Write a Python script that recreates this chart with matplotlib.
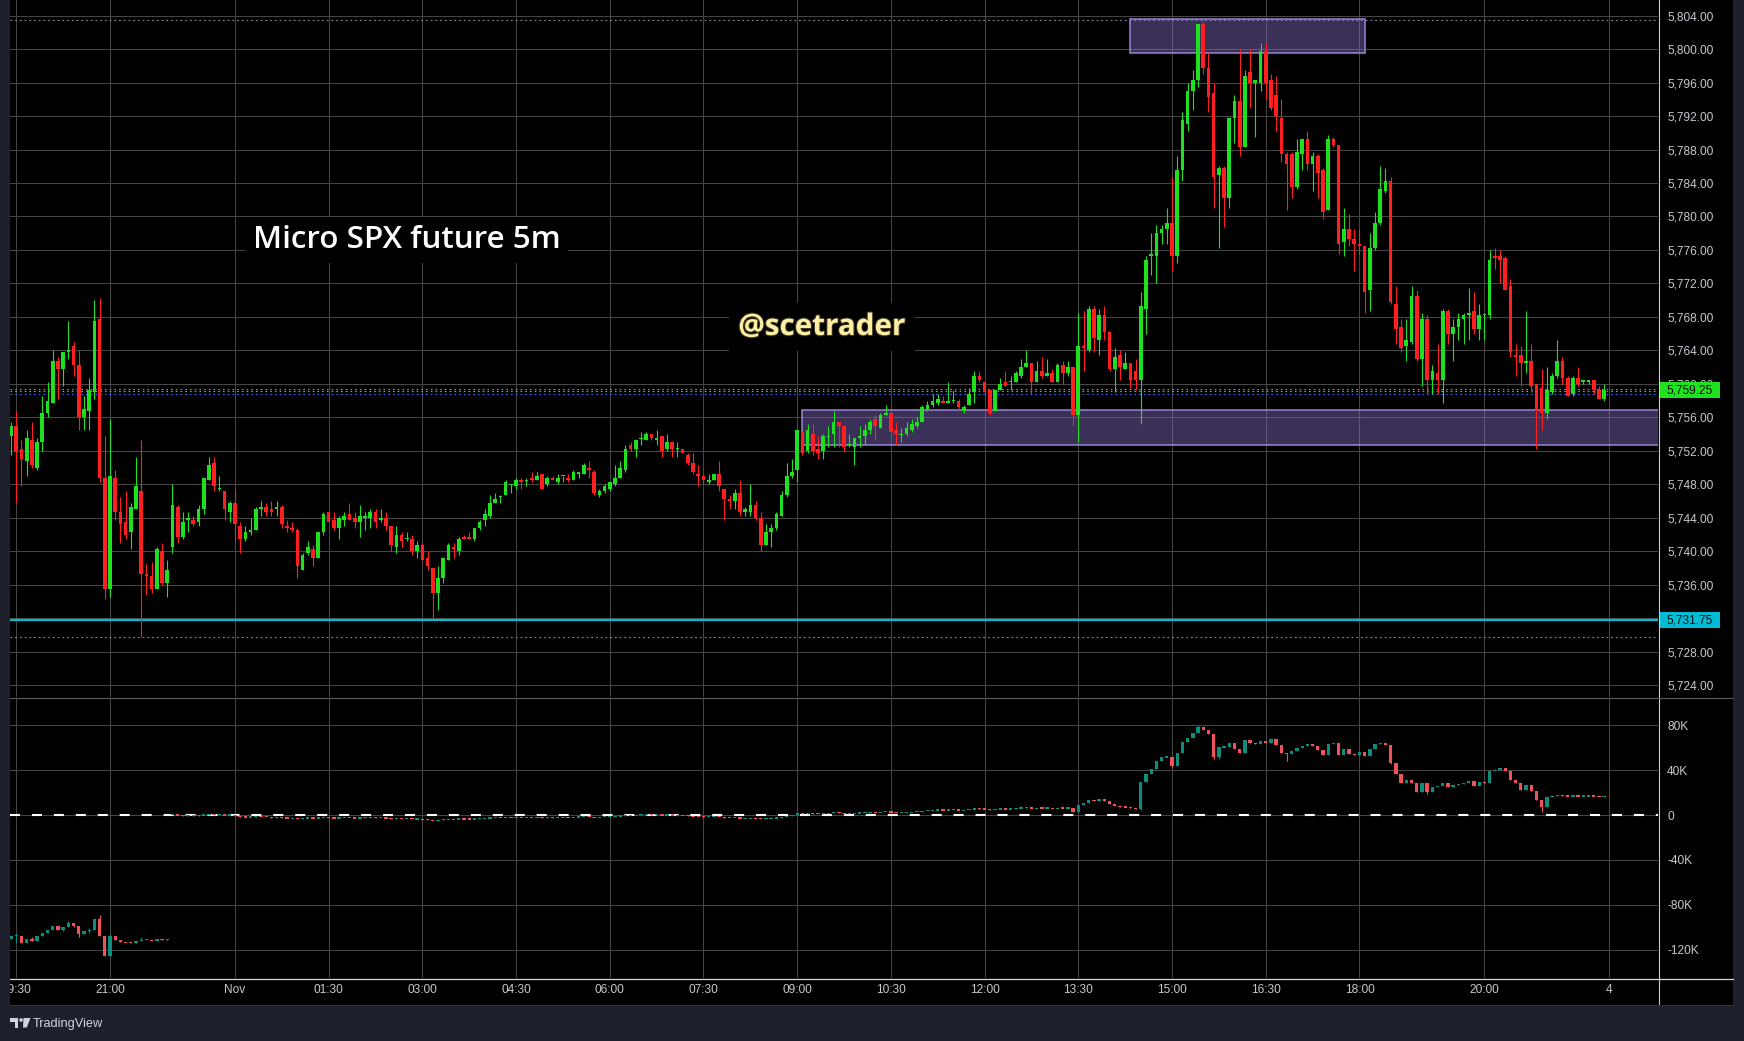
import matplotlib
matplotlib.use("Agg")
import matplotlib.pyplot as plt
import numpy as np
from matplotlib.patches import Rectangle, Polygon, Ellipse
from matplotlib import transforms, font_manager
import matplotlib.patheffects as pe

plt.rcParams['lines.scale_dashes'] = False

# ---------------------------------------------------------------- data
# bar index: 0 = 21:00 (Oct 31); first visible candle is index -19
first_bar = -19

opens = [
    5753.75, 5755.0, 5752.25, 5750.75, 5753.25, 5750.0, 5753.0, 5756.5, 5757.75, 5762.75,
    5761.75, 5763.75, 5764.5, 5762.25, 5756.0, 5756.75, 5759.0, 5767.75, 5748.75, 5735.5,
    5748.75, 5744.75, 5743.5, 5742.25, 5745.0, 5747.25, 5737.25, 5737.0, 5735.5, 5740.0,
    5736.25, 5740.5, 5745.25, 5741.75, 5743.75, 5743.75, 5743.5, 5745.0, 5748.5, 5750.5,
    5747.5, 5747.25, 5744.75, 5745.75, 5743.0, 5741.5, 5742.25, 5742.5, 5745.0, 5745.25,
    5745.0, 5745.0, 5745.25, 5743.0, 5742.75, 5742.5, 5737.75, 5739.75, 5740.25, 5739.25,
    5742.25, 5744.75, 5743.75, 5742.75, 5743.75, 5744.5, 5744.0, 5743.5, 5744.0, 5744.0,
    5744.75, 5743.75, 5744.0, 5743.0, 5740.5, 5742.0, 5741.5, 5741.5, 5740.0, 5740.75,
    5739.25, 5738.0, 5735.0, 5736.75, 5739.0, 5740.5, 5740.0, 5741.75, 5741.75, 5741.5,
    5742.75, 5743.75, 5744.25, 5745.75, 5746.5, 5746.75, 5748.0, 5747.75, 5748.5, 5748.5,
    5748.75, 5748.5, 5749.25, 5748.0, 5748.75, 5748.25, 5749.0, 5748.75, 5748.5, 5749.25,
    5749.25, 5750.0, 5749.5, 5746.75, 5747.25, 5747.5, 5748.0, 5748.75, 5749.75, 5752.75,
    5752.25, 5753.5, 5753.25, 5754.0, 5753.25, 5753.75, 5752.25, 5753.0, 5752.25, 5752.25,
    5751.5, 5750.5, 5749.25, 5749.0, 5748.25, 5748.5, 5749.25, 5747.5, 5746.25, 5746.0,
    5747.0, 5744.75, 5744.75, 5745.5, 5744.0, 5740.75, 5742.25, 5742.75, 5744.25, 5746.75,
    5749.0, 5749.75, 5754.25, 5752.0, 5754.0, 5752.25, 5752.0, 5753.75, 5754.0, 5755.5,
    5755.0, 5752.75, 5752.5, 5753.5, 5753.75, 5754.5, 5755.75, 5754.75, 5756.25, 5756.5,
    5754.5, 5754.0, 5754.0, 5754.5, 5755.0, 5755.5, 5757.0, 5757.5, 5757.75, 5758.0,
    5757.75, 5758.0, 5758.0, 5756.75, 5757.5, 5759.0, 5761.0, 5760.25, 5759.25, 5756.75,
    5759.25, 5760.25, 5760.25, 5760.25, 5761.0, 5762.0, 5762.5, 5760.25, 5761.5, 5761.0,
    5761.25, 5760.25, 5762.25, 5761.25, 5762.0, 5756.25, 5764.5, 5764.0, 5769.0, 5765.25,
    5768.25, 5766.25, 5761.75, 5763.5, 5761.75, 5762.5, 5761.5, 5760.5, 5769.0, 5775.25,
    5775.25, 5778.0, 5778.5, 5779.25, 5775.25, 5785.5, 5791.0, 5795.0, 5796.25, 5803.0,
    5797.75, 5794.75, 5785.0, 5785.75, 5782.25, 5791.75, 5793.75, 5788.25, 5797.25, 5796.0,
    5796.0, 5799.75, 5796.25, 5794.5, 5791.75, 5787.5, 5787.5, 5783.5, 5787.5, 5789.25,
    5786.25, 5787.25, 5785.5, 5780.75, 5789.25, 5788.5, 5777.0, 5778.5, 5777.25, 5776.75,
    5776.5, 5771.25, 5776.25, 5779.25, 5783.0, 5784.25, 5769.5, 5766.75, 5764.5, 5765.0,
    5770.5, 5763.0, 5767.75, 5760.5, 5761.25, 5760.5, 5768.75, 5766.0, 5766.75, 5767.75,
    5768.25, 5768.75, 5766.5, 5768.25, 5768.25, 5775.25, 5775.25, 5775.0, 5771.75, 5763.5,
    5763.5, 5762.5, 5762.75, 5760.0, 5759.5, 5756.5, 5759.0, 5761.0, 5762.75, 5760.75,
    5758.75, 5760.75, 5760.25, 5760.25, 5760.5, 5759.25, 5758.25,
]
highs = [
    5755.5, 5756.75, 5753.25, 5754.5, 5755.5, 5753.5, 5758.5, 5760.25, 5764.0, 5763.25,
    5763.75, 5767.5, 5765.0, 5764.0, 5758.5, 5760.75, 5770.0, 5770.25, 5753.75, 5755.75,
    5749.75, 5746.5, 5747.25, 5745.75, 5751.25, 5753.25, 5738.5, 5738.75, 5740.5, 5741.0,
    5739.0, 5748.0, 5745.5, 5744.75, 5744.75, 5744.25, 5745.5, 5748.75, 5751.25, 5751.25,
    5749.0, 5747.25, 5746.0, 5747.5, 5743.5, 5743.0, 5744.0, 5745.25, 5746.0, 5745.75,
    5746.0, 5746.0, 5745.5, 5743.75, 5743.5, 5742.75, 5739.75, 5741.25, 5740.75, 5742.25,
    5744.75, 5744.75, 5744.75, 5744.25, 5744.75, 5745.75, 5744.75, 5745.5, 5744.75, 5745.0,
    5745.0, 5745.0, 5744.75, 5743.0, 5743.0, 5742.25, 5742.25, 5742.0, 5741.25, 5741.0,
    5740.0, 5738.0, 5738.25, 5739.25, 5741.0, 5741.0, 5741.75, 5742.0, 5742.25, 5742.75,
    5743.75, 5745.0, 5746.75, 5747.0, 5746.75, 5748.5, 5748.0, 5748.75, 5748.75, 5748.75,
    5749.5, 5749.5, 5749.25, 5749.0, 5749.0, 5749.25, 5749.0, 5749.25, 5749.75, 5749.5,
    5750.5, 5750.75, 5749.75, 5747.5, 5748.0, 5748.25, 5750.25, 5750.75, 5752.75, 5753.0,
    5753.25, 5754.25, 5754.25, 5754.0, 5754.5, 5753.75, 5754.0, 5753.0, 5753.0, 5752.25,
    5751.75, 5751.75, 5750.25, 5749.0, 5749.25, 5749.25, 5750.75, 5747.5, 5746.75, 5747.5,
    5748.5, 5745.25, 5748.0, 5746.0, 5744.75, 5743.25, 5743.25, 5744.75, 5747.25, 5750.5,
    5751.0, 5754.5, 5754.25, 5755.25, 5755.25, 5753.75, 5754.0, 5755.0, 5756.75, 5755.5,
    5755.0, 5754.0, 5753.5, 5755.0, 5755.25, 5755.75, 5756.25, 5756.5, 5757.5, 5756.5,
    5755.5, 5754.75, 5755.5, 5755.75, 5756.0, 5757.5, 5758.0, 5758.75, 5758.75, 5758.5,
    5760.25, 5759.25, 5758.25, 5757.5, 5759.5, 5761.5, 5761.5, 5760.25, 5759.25, 5759.25,
    5760.75, 5761.5, 5761.0, 5761.5, 5763.0, 5764.0, 5762.5, 5762.75, 5763.25, 5763.0,
    5761.75, 5762.5, 5762.75, 5762.75, 5762.0, 5768.5, 5768.75, 5769.25, 5769.25, 5769.0,
    5769.25, 5766.25, 5764.25, 5764.0, 5763.75, 5762.5, 5763.0, 5771.0, 5775.25, 5778.0,
    5779.0, 5779.0, 5781.0, 5784.75, 5787.25, 5792.5, 5796.0, 5797.5, 5803.0, 5803.5,
    5799.5, 5796.0, 5786.0, 5786.0, 5791.75, 5794.5, 5800.0, 5797.5, 5800.0, 5796.25,
    5800.75, 5800.75, 5797.0, 5796.75, 5794.0, 5787.75, 5787.75, 5789.25, 5789.25, 5790.25,
    5787.75, 5787.5, 5785.75, 5789.75, 5789.5, 5788.5, 5781.0, 5780.25, 5778.5, 5778.5,
    5776.5, 5778.0, 5780.5, 5786.0, 5785.75, 5784.75, 5771.75, 5767.75, 5767.75, 5771.75,
    5771.25, 5768.5, 5768.25, 5762.25, 5764.75, 5769.0, 5769.0, 5767.75, 5768.5, 5768.5,
    5771.5, 5771.0, 5769.5, 5768.5, 5776.0, 5776.25, 5776.0, 5775.25, 5772.5, 5764.75,
    5764.5, 5768.75, 5764.75, 5760.0, 5761.75, 5762.0, 5761.25, 5765.25, 5763.25, 5761.0,
    5761.0, 5762.0, 5760.5, 5760.5, 5760.5, 5759.75, 5760.0,
]
lows = [
    5751.5, 5745.75, 5747.75, 5749.0, 5750.0, 5749.75, 5752.0, 5756.0, 5757.75, 5758.25,
    5759.75, 5763.0, 5761.0, 5754.5, 5754.5, 5754.5, 5758.25, 5748.25, 5734.25, 5734.5,
    5743.75, 5741.0, 5741.5, 5740.25, 5745.0, 5729.75, 5734.75, 5735.0, 5735.5, 5736.0,
    5734.5, 5739.75, 5741.0, 5741.5, 5742.25, 5743.0, 5743.0, 5744.5, 5748.5, 5747.25,
    5747.25, 5743.75, 5743.5, 5741.25, 5739.75, 5741.25, 5742.0, 5742.5, 5744.25, 5744.25,
    5744.25, 5744.25, 5742.75, 5742.25, 5742.25, 5736.75, 5737.75, 5739.5, 5738.25, 5739.25,
    5742.0, 5743.5, 5742.5, 5741.5, 5743.0, 5743.75, 5742.75, 5741.75, 5742.5, 5742.75,
    5742.75, 5743.5, 5742.5, 5740.0, 5739.75, 5740.5, 5741.25, 5739.5, 5739.25, 5739.0,
    5737.75, 5732.0, 5733.0, 5736.25, 5739.0, 5739.25, 5739.5, 5741.5, 5741.5, 5741.25,
    5742.5, 5743.0, 5744.0, 5745.75, 5745.75, 5746.75, 5747.0, 5747.5, 5747.5, 5747.75,
    5748.25, 5748.5, 5747.5, 5747.75, 5748.5, 5748.0, 5748.25, 5748.25, 5748.5, 5748.75,
    5749.25, 5748.75, 5746.75, 5746.5, 5747.0, 5747.25, 5747.75, 5748.75, 5749.5, 5752.0,
    5751.25, 5752.75, 5753.25, 5753.25, 5752.75, 5751.25, 5752.0, 5751.25, 5751.25, 5751.75,
    5750.25, 5749.25, 5747.75, 5748.0, 5748.0, 5748.5, 5747.25, 5743.75, 5745.0, 5745.0,
    5744.25, 5744.25, 5744.25, 5743.75, 5740.0, 5740.75, 5740.5, 5742.5, 5744.25, 5746.5,
    5748.75, 5748.25, 5751.5, 5751.75, 5751.5, 5751.0, 5751.0, 5752.5, 5752.5, 5752.5,
    5752.0, 5752.5, 5750.25, 5752.5, 5752.75, 5754.0, 5753.25, 5754.75, 5756.25, 5754.25,
    5752.75, 5753.0, 5753.75, 5754.25, 5754.75, 5755.5, 5756.75, 5757.25, 5757.5, 5757.75,
    5757.75, 5757.75, 5756.75, 5756.5, 5757.5, 5757.75, 5760.25, 5758.75, 5756.25, 5756.75,
    5759.25, 5759.75, 5759.25, 5760.25, 5760.75, 5762.0, 5758.75, 5760.25, 5760.75, 5761.0,
    5760.25, 5760.25, 5760.0, 5761.0, 5755.0, 5753.0, 5761.5, 5763.75, 5763.75, 5763.5,
    5765.25, 5761.5, 5759.0, 5760.5, 5761.75, 5759.5, 5759.25, 5755.25, 5766.0, 5773.0,
    5772.0, 5776.75, 5776.75, 5773.5, 5774.5, 5784.25, 5790.25, 5792.75, 5795.5, 5797.0,
    5792.5, 5781.0, 5776.25, 5778.75, 5781.0, 5788.75, 5787.25, 5788.25, 5793.0, 5789.5,
    5795.0, 5794.0, 5792.75, 5790.25, 5786.5, 5780.75, 5782.25, 5783.25, 5785.5, 5785.5,
    5783.0, 5782.25, 5779.75, 5780.75, 5788.25, 5775.5, 5775.25, 5776.5, 5773.5, 5775.5,
    5768.5, 5768.75, 5776.0, 5779.0, 5782.75, 5769.5, 5764.75, 5763.75, 5762.75, 5764.75,
    5762.75, 5759.75, 5758.75, 5758.75, 5758.75, 5757.75, 5764.75, 5762.75, 5765.25, 5764.75,
    5765.25, 5766.0, 5765.25, 5765.25, 5767.75, 5773.75, 5772.0, 5771.25, 5763.25, 5761.0,
    5759.75, 5761.25, 5759.0, 5752.25, 5754.5, 5755.75, 5758.75, 5760.75, 5760.0, 5758.5,
    5758.5, 5759.75, 5760.0, 5760.0, 5758.75, 5758.25, 5758.0,
]
closes = [
    5755.0, 5752.0, 5751.0, 5753.5, 5750.25, 5753.0, 5756.5, 5758.0, 5762.75, 5761.75,
    5763.75, 5764.0, 5762.25, 5756.0, 5757.0, 5759.25, 5767.5, 5748.75, 5735.5, 5749.0,
    5744.75, 5743.25, 5742.0, 5745.25, 5747.75, 5737.25, 5737.0, 5735.5, 5740.25, 5736.25,
    5737.75, 5745.5, 5741.75, 5743.5, 5744.0, 5743.25, 5745.0, 5748.75, 5750.25, 5747.75,
    5747.5, 5745.0, 5745.75, 5743.25, 5741.5, 5742.25, 5742.5, 5745.0, 5745.25, 5744.75,
    5744.75, 5745.25, 5743.25, 5742.75, 5742.5, 5738.25, 5739.5, 5740.5, 5739.25, 5742.25,
    5744.5, 5743.5, 5742.75, 5744.0, 5744.25, 5743.75, 5743.5, 5744.25, 5744.25, 5744.75,
    5743.5, 5744.0, 5743.0, 5740.75, 5742.0, 5741.25, 5741.5, 5740.0, 5740.75, 5739.0,
    5738.25, 5735.0, 5736.75, 5739.25, 5740.75, 5740.25, 5741.5, 5741.5, 5741.5, 5742.75,
    5743.5, 5744.5, 5745.75, 5746.25, 5746.5, 5748.25, 5748.0, 5748.5, 5748.25, 5748.5,
    5748.5, 5749.0, 5747.5, 5748.75, 5748.5, 5748.75, 5749.0, 5748.5, 5749.5, 5749.5,
    5750.25, 5749.75, 5747.0, 5747.25, 5747.75, 5748.25, 5748.75, 5750.0, 5752.25, 5752.25,
    5753.25, 5753.5, 5754.0, 5753.5, 5753.5, 5752.0, 5753.0, 5752.25, 5752.25, 5751.75,
    5750.5, 5749.5, 5749.0, 5748.5, 5748.5, 5749.25, 5747.75, 5746.25, 5746.0, 5747.0,
    5744.75, 5745.0, 5745.5, 5744.0, 5740.75, 5742.25, 5742.75, 5744.5, 5746.75, 5749.0,
    5749.5, 5754.5, 5751.75, 5754.5, 5752.0, 5751.75, 5753.75, 5753.75, 5755.5, 5755.0,
    5752.5, 5752.75, 5753.5, 5753.75, 5754.5, 5755.5, 5755.0, 5756.25, 5756.5, 5754.25,
    5754.0, 5754.0, 5754.75, 5755.25, 5755.5, 5757.25, 5757.5, 5758.0, 5758.25, 5757.75,
    5758.0, 5758.0, 5757.25, 5757.25, 5758.75, 5761.0, 5760.5, 5759.0, 5756.5, 5759.25,
    5760.0, 5759.75, 5760.25, 5761.25, 5762.0, 5762.5, 5760.25, 5761.5, 5761.0, 5761.25,
    5760.25, 5762.25, 5761.25, 5762.0, 5756.25, 5764.5, 5764.25, 5769.0, 5765.5, 5768.25,
    5766.25, 5761.75, 5763.25, 5762.0, 5762.5, 5760.5, 5760.5, 5769.25, 5774.75, 5775.5,
    5778.0, 5778.5, 5779.25, 5775.25, 5785.5, 5791.5, 5795.0, 5796.25, 5803.0, 5797.75,
    5794.25, 5784.75, 5785.75, 5782.25, 5791.75, 5793.75, 5788.25, 5796.75, 5796.0, 5796.25,
    5799.75, 5796.0, 5793.0, 5792.0, 5787.5, 5786.25, 5783.5, 5787.75, 5789.25, 5786.25,
    5787.25, 5785.25, 5780.5, 5789.25, 5788.5, 5776.75, 5778.5, 5777.25, 5776.75, 5776.5,
    5771.0, 5776.25, 5779.25, 5783.25, 5784.25, 5769.75, 5766.5, 5764.25, 5765.25, 5770.5,
    5763.0, 5767.75, 5760.5, 5761.5, 5760.5, 5768.75, 5766.0, 5766.75, 5767.75, 5768.25,
    5768.5, 5766.5, 5768.25, 5768.25, 5774.75, 5775.0, 5774.75, 5771.25, 5763.75, 5763.25,
    5762.5, 5762.75, 5759.75, 5756.75, 5756.5, 5759.25, 5761.0, 5762.75, 5760.75, 5758.5,
    5760.75, 5760.0, 5760.5, 5760.5, 5759.25, 5758.25, 5759.25,
]

# cumulative delta indicator (thousands), two sessions
cd_s1_start = -19
cd_s1_first_open = -110.9
cd_s1_close = [
    -107.9, -107.5, -113.9, -110.9, -112.4, -107.9, -105.0, -102.6, -99.0, -102.6,
    -99.9, -96.0, -99.0, -106.1, -103.2, -102.6, -92.8, -107.9, -125.8, -107.9,
    -111.5, -113.3, -113.6, -114.0, -112.0, -111.5, -111.2, -112.0, -110.6, -111.2,
    -110.6,
]
cd_s2_start = 12
cd_s2_first_open = 0.0
cd_s2_close = [
    0.4, -0.3, -0.5, -0.2, -0.9, -0.4, 0.3, 0.6, 0.2, 0.4,
    -0.3, 0.1, -0.8, -1.6, -1.9, -1.6, -1.2, -1.5, -1.8, -2.3,
    -2.1, -2.6, -2.9, -2.8, -3.2, -2.9, -2.6, -2.9, -2.5, -2.2,
    -2.6, -2.8, -2.5, -2.3, -2.6, -2.8, -2.5, -2.4, -2.2, -2.6,
    -2.5, -2.8, -3.4, -3.0, -3.3, -3.2, -3.6, -3.4, -4.0, -4.5,
    -5.3, -4.6, -3.9, -3.6, -3.8, -3.5, -3.6, -3.7, -3.4, -3.2,
    -2.9, -2.5, -2.3, -2.4, -2.0, -2.1, -1.9, -2.1, -2.0, -2.2,
    -1.9, -2.4, -2.2, -2.3, -2.1, -2.0, -2.2, -1.8, -1.7, -1.4,
    -1.6, -2.2, -1.8, -1.5, -1.2, -1.0, -0.7, -0.2, -0.4, 0.1,
    0.2, 0.5, 0.3, 0.4, -0.3, 0.1, -0.2, -0.2, -0.4, -0.8,
    -1.2, -1.3, -1.5, -1.4, -1.1, -1.7, -2.5, -2.6, -2.3, -3.0,
    -2.9, -2.7, -3.1, -3.6, -3.1, -2.9, -2.4, -1.6, -0.6, -0.3,
    1.8, 1.0, 2.0, 1.3, 1.0, 1.6, 1.7, 2.3, 2.1, 1.2,
    1.3, 1.7, 1.9, 2.2, 2.6, 2.3, 2.8, 3.0, 2.2, 2.0,
    2.1, 2.4, 2.7, 2.9, 3.7, 4.0, 4.3, 4.5, 4.4, 4.6,
    4.6, 4.2, 4.4, 4.9, 5.8, 5.6, 5.1, 4.2, 5.1, 5.5,
    5.3, 5.5, 5.9, 6.4, 6.7, 5.9, 6.3, 6.1, 6.2, 5.8,
    6.4, 6.0, 6.3, 2.4, 8.9, 11.0, 13.4, 12.2, 14.0, 12.5,
    9.5, 8.3, 7.5, 6.8, 6.0, 5.0, 29.4, 36.6, 41.0, 47.9,
    51.5, 51.8, 43.4, 55.0, 65.4, 68.4, 72.9, 78.8, 75.8, 72.0,
    52.0, 60.4, 61.0, 64.5, 58.6, 55.6, 67.0, 64.0, 63.6, 66.3, 63.9, 67.5, 62.5, 55.0, 54.5, 57.4,
    59.5, 61.5, 63.5, 61.9, 58.0, 53.2, 63.0, 63.9, 53.2, 59.2,
    54.1, 53.5, 56.2, 52.6, 59.2, 63.3, 64.5, 62.7, 46.7, 36.6,
    28.3, 31.2, 28.8, 20.8, 28.3, 20.8, 24.7, 25.9, 28.3, 24.7,
    26.8, 27.7, 28.8, 30.6, 25.9, 29.4, 28.3, 39.3, 40.1, 41.6,
    39.5, 31.2, 28.3, 22.3, 26.5, 21.4, 13.4, 7.4, 15.8, 17.0,
    17.5, 17.2, 16.8, 17.1, 16.9, 16.9, 17.0, 16.8, 16.7, 16.8,
]
cd_wick_idx = [-18, -15, -9, -8, -7, -6, -4, -2, 0, 6, 198, 204, 209, 212, 213, 226, 246, 253, 275]
cd_wick_hi = [-105.5, -109.1, -99.9, -94.5, -96.0, -99.0, -101.1, -89.2, -106.0, -108.5,
              29.4, 51.8, 80.5, 72.0, 60.4, 55.0, 62.7, 28.3, 13.4]
cd_wick_lo = [-114.4, -112.4, -103.5, -99.9, -100.0, -108.5, -105.5, -107.9, -125.8, -112.0,
              4.5, 41.5, 72.9, 50.0, 49.5, 48.0, 45.5, 19.0, 3.0]

time_tick_idx = [-18, 0, 24, 42, 60, 78, 96, 114, 132, 150, 168, 186, 204, 222, 240, 264, 288]
time_tick_labels = ['19:30', '21:00', 'Nov', '01:30', '03:00', '04:30', '06:00', '07:30',
                    '09:00', '10:30', '12:00', '13:30', '15:00', '16:30', '18:00', '20:00', '4']
price_ticks = list(range(5724, 5805, 4))
cd_ticks = [80, 40, 0, -40, -80, -120]
cd_tick_labels = ['80K', '40K', '0', '-40K', '-80K', '-120K']

resistance_zone_bars = [195.9, 241.0]
resistance_zone_price = [5799.5, 5803.55]
support_zone_start = 132.9
support_zone_price = [5752.75, 5756.9]
level_line = 5731.75
last_price = 5759.25
indicator_lines = [5759.37, 5759.1, 5758.75]
indicator_line_colors = ['#ff5c5c', '#3fd43f', '#2f6bff']

# ---------------------------------------------------------------- layout
W, H, DPI = 1744, 1041, 100
PANE_L, PANE_R = 10, 1658
MAIN_T, MAIN_B = 0, 697
LOW_T, LOW_B = 698, 978
X0_PX, DX_PX = 110.0, 5.206        # pixel of bar 0 and bar spacing
P_REF, P_REF_Y, PX_PER_PT = 5804.0, 15.6, 8.37
CD_ZERO_Y, PX_PER_40K = 815.0, 44.85

names = {f.name for f in font_manager.fontManager.ttflist}
if 'Liberation Sans Narrow' in names:
    AX_FONT, AX_FS = 'Liberation Sans Narrow', 9.6
else:
    AX_FONT, AX_FS = 'Liberation Sans', 8.6
TITLE_FONT = 'Open Sans' if 'Open Sans' in names else 'DejaVu Sans'
AX_COLOR = '#c7c9cf'
GRID = '#454545'
UP, DN = '#1fe01f', '#ff1f1f'
CUP, CDN = '#0f8c7c', '#f0525a'


def fx(x):
    return x / W


def fy(y):
    return 1 - y / H


fig = plt.figure(figsize=(W / DPI, H / DPI), dpi=DPI)
fig.patch.set_facecolor('#1e212b')

# black chart background (pane + axes strips)
fig.add_artist(Rectangle((fx(10), fy(1005)), fx(1733) - fx(10), fy(0) - fy(1005),
                         transform=fig.transFigure, facecolor='black', edgecolor='none', zorder=-5))

ax = fig.add_axes([fx(PANE_L), fy(MAIN_B), fx(PANE_R) - fx(PANE_L), fy(MAIN_T) - fy(MAIN_B)])
lax = fig.add_axes([fx(PANE_L), fy(LOW_B), fx(PANE_R) - fx(PANE_L), fy(LOW_T) - fy(LOW_B)])

xlim = ((PANE_L - X0_PX) / DX_PX, (PANE_R - X0_PX) / DX_PX)
ylim_main = (P_REF - (MAIN_B - P_REF_Y) / PX_PER_PT, P_REF + (P_REF_Y - MAIN_T) / PX_PER_PT)
ylim_low = (-(LOW_B - CD_ZERO_Y) / PX_PER_40K * 40, (CD_ZERO_Y - LOW_T) / PX_PER_40K * 40)

for a in (ax, lax):
    a.set_facecolor('black')
    a.set_xlim(*xlim)
    for s in a.spines.values():
        s.set_visible(False)
    a.set_xticks(time_tick_idx)
    a.grid(True, color=GRID, linewidth=0.75)
    a.set_axisbelow(True)
    a.yaxis.tick_right()
    a.tick_params(axis='both', length=0, labelcolor=AX_COLOR, labelsize=AX_FS)
    a.tick_params(axis='y', pad=6.5)

ax.set_ylim(*ylim_main)
ax.set_yticks(price_ticks)
ax.set_yticklabels([f"{p:,.2f}" for p in price_ticks], family=AX_FONT)
ax.tick_params(axis='x', labelbottom=False)

lax.set_ylim(*ylim_low)
lax.set_yticks(cd_ticks)
lax.set_yticklabels(cd_tick_labels, family=AX_FONT)
lax.set_xticklabels(time_tick_labels, family=AX_FONT)
lax.tick_params(axis='x', pad=4.0)


def draw_candles(a, x, o, h, l, c, up, dn, width, min_h, lw):
    o, h, l, c = (np.asarray(v, float) for v in (o, h, l, c))
    h = np.maximum(h, np.maximum(o, c))
    l = np.minimum(l, np.minimum(o, c))
    cols = [up if cc >= oo else dn for oo, cc in zip(o, c)]
    a.vlines(x, l, h, colors=cols, linewidth=lw, zorder=3)
    lo = np.minimum(o, c)
    ht = np.abs(c - o)
    small = ht < min_h
    lo = np.where(small, (o + c) / 2 - min_h / 2, lo)
    ht = np.where(small, min_h, ht)
    a.bar(x, ht, width=width, bottom=lo, color=cols, linewidth=0, zorder=3.2)


# ---------------- main pane
xs = np.arange(first_bar, first_bar + len(closes))
ax.axhline(max(highs), color='#8d9099', lw=0.8, ls=(0, (1.2, 2.2)), zorder=1.5)
ax.axhline(min(lows), color='#8d9099', lw=0.8, ls=(0, (1.2, 2.2)), zorder=1.5)
for lvl, col in zip(indicator_lines, indicator_line_colors):
    ax.axhline(lvl, color=col, lw=0.8, ls=(0, (1.2, 2.2)), zorder=1.6)

ax.add_patch(Rectangle((resistance_zone_bars[0], resistance_zone_price[0]),
                       resistance_zone_bars[1] - resistance_zone_bars[0],
                       resistance_zone_price[1] - resistance_zone_price[0],
                       facecolor=(0.52, 0.42, 0.76, 0.45), edgecolor='#9a86d2', lw=1.1, zorder=2))
ax.add_patch(Rectangle((support_zone_start, support_zone_price[0]),
                       xlim[1] + 5 - support_zone_start,
                       support_zone_price[1] - support_zone_price[0],
                       facecolor=(0.52, 0.42, 0.76, 0.45), edgecolor='#9a86d2', lw=1.1, zorder=2))
ax.axhline(level_line, color='#00bcd4', lw=1.6, zorder=2.5)

draw_candles(ax, xs, opens, highs, lows, closes, UP, DN, 0.7, 0.13, 0.8)

# ---------------- lower pane (cumulative delta)
cd_x = np.concatenate([np.arange(cd_s1_start, cd_s1_start + len(cd_s1_close)),
                       np.arange(cd_s2_start, cd_s2_start + len(cd_s2_close))])
cd_c = np.array(cd_s1_close + cd_s2_close, float)
cd_o = np.array([cd_s1_first_open] + cd_s1_close[:-1] + [cd_s2_first_open] + cd_s2_close[:-1], float)
cd_h = np.maximum(cd_o, cd_c)
cd_l = np.minimum(cd_o, cd_c)
for i, hi, lo in zip(cd_wick_idx, cd_wick_hi, cd_wick_lo):
    k = int(np.where(cd_x == i)[0][0])
    cd_h[k] = hi
    cd_l[k] = lo
lax.axhline(0, color='white', lw=1.5, ls=(0, (7.2, 8.6)), zorder=2)
draw_candles(lax, cd_x, cd_o, cd_h, cd_l, cd_c, CUP, CDN, 0.64, 1.1, 0.8)

# ---------------- price labels on the axis
blend = transforms.blended_transform_factory(fig.transFigure, ax.transData)
box_h = 16 / PX_PER_PT
for price, bg in ((last_price, '#1fe31f'), (level_line, '#00bcd4')):
    fig.add_artist(Rectangle((fx(1659), price - box_h / 2), fx(1720) - fx(1659), box_h,
                             transform=blend, facecolor=bg, edgecolor='none', zorder=6))
    fig.text(fx(1689.5), price, f"{price:,.2f}", transform=blend, ha='center', va='center',
             color='#0a0a0a', fontsize=AX_FS, family=AX_FONT, zorder=7)

# ---------------- annotations
fig.text(fx(406.5), fy(247.7), 'Micro SPX future 5m', ha='center', va='baseline',
         color='white', fontsize=22.6, family=TITLE_FONT, weight='semibold', zorder=8,
         bbox=dict(boxstyle='square,pad=0.25', facecolor='black', edgecolor='none'))
fig.text(fx(822), fy(335), '@scetrader', ha='center', va='baseline',
         color='#fcefa4', fontsize=21.3, family=TITLE_FONT, weight='bold', zorder=8,
         bbox=dict(boxstyle='square,pad=0.3', facecolor='black', edgecolor='none'),
         path_effects=[pe.withStroke(linewidth=1.5, foreground='#3a3320')])

# ---------------- frame lines / strips
fig.add_artist(Rectangle((0, fy(1005)), fx(10), 1 - fy(1005), transform=fig.transFigure,
                         facecolor='#1e212b', edgecolor='none', zorder=10))
fig.add_artist(plt.Line2D([fx(1658.5), fx(1658.5)], [fy(0), fy(1005)], transform=fig.transFigure,
                          color='#c9ccd3', lw=0.8, zorder=9))
fig.add_artist(plt.Line2D([fx(10), fx(1733)], [fy(978.5), fy(978.5)], transform=fig.transFigure,
                          color='#d6d9e0', lw=0.9, zorder=9))
fig.add_artist(plt.Line2D([fx(10), fx(1733)], [fy(697.5), fy(697.5)], transform=fig.transFigure,
                          color='#5a5d66', lw=0.8, zorder=9))
fig.add_artist(plt.Line2D([fx(10), fx(1733)], [fy(1005), fy(1005)], transform=fig.transFigure,
                          color='#2c303b', lw=0.8, zorder=9))

# ---------------- TradingView logo
LOGO = '#d1d4dc'
for pts in ([(10, 1018), (18, 1018), (18, 1021.5), (10, 1021.5)],
            [(14.5, 1018), (18, 1018), (18, 1027.5), (14.5, 1027.5)],
            [(23.5, 1018), (30.5, 1018), (26.8, 1027.5), (23.0, 1027.5)]):
    fig.add_artist(Polygon([(fx(a), fy(b)) for a, b in pts], closed=True, transform=fig.transFigure,
                           facecolor=LOGO, edgecolor='none', zorder=11))
fig.add_artist(Ellipse((fx(21), fy(1020)), 3.6 / W, 3.6 / H, transform=fig.transFigure,
                       facecolor=LOGO, edgecolor='none', zorder=11))
fig.text(fx(33), fy(1027.5), 'TradingView', ha='left', va='baseline', color=LOGO,
         fontsize=9.2, family='Liberation Sans', zorder=11)

fig.savefig('out.png', dpi=DPI, facecolor=fig.get_facecolor())
